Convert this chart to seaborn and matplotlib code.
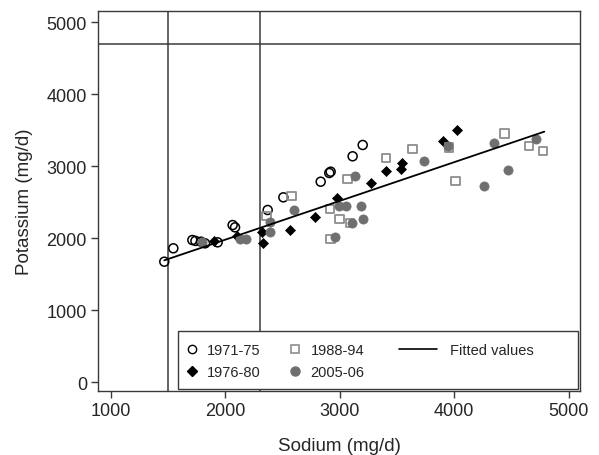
import numpy as np
import pandas as pd
import matplotlib
matplotlib.use("Agg")
import matplotlib.pyplot as plt
import seaborn as sns
from matplotlib.lines import Line2D
from matplotlib.patches import Rectangle

# ---- data ----
na_7175 = [1468, 1547, 1713, 1740, 1789, 1824, 1934, 2065, 2086, 2371, 2508, 2834, 2909, 2921, 3113, 3201]
k_7175 = [1671, 1857, 1972, 1960, 1949, 1926, 1940, 2180, 2148, 2389, 2565, 2782, 2903, 2921, 3135, 3292]

na_7680 = [1902, 2105, 2319, 2327, 2566, 2784, 2974, 3271, 3404, 3541, 3533, 3905, 4027]
k_7680 = [1963, 2025, 2090, 1935, 2116, 2287, 2551, 2767, 2935, 3035, 2958, 3345, 3504]

na_8894 = [2362, 2580, 2915, 2997, 3067, 3090, 2921, 3404, 3637, 3955, 4013, 4441, 4656, 4778]
k_8894 = [2310, 2579, 2403, 2264, 2822, 2204, 1986, 3107, 3236, 3259, 2792, 3450, 3282, 3208]

na_0506 = [1800, 2125, 2180, 2391, 2391, 2604, 2997, 3055, 3183, 3105, 3201, 2959, 3134, 3739, 3948, 4345, 4472, 4262, 4714]
k_0506 = [1945, 1980, 1985, 2218, 2079, 2393, 2440, 2440, 2440, 2208, 2264, 2009, 2866, 3074, 3282, 3315, 2947, 2722, 3375]

# fitted values line (end points)
fit_sodium = [1468, 4787]
fit_potassium = [1690, 3477]

group_labels = ["1971-75", "1976-80", "1988-94", "2005-06"]
fit_label = "Fitted values"

x_ticks = [1000, 2000, 3000, 4000, 5000]
y_ticks = [0, 1000, 2000, 3000, 4000, 5000]
ref_sodium = [1500, 2300]
ref_potassium = [4700]

# ---- styling ----
sns.set_style("ticks")
plt.rcParams["font.family"] = ["Liberation Sans", "DejaVu Sans"]

fig = plt.figure(figsize=(5.99, 4.56), dpi=100)
L, R, T, B = 98, 580, 11.5, 392
W, H = 599, 456
ax = fig.add_axes([L / W, 1 - B / H, (R - L) / W, (B - T) / H])

frames = []
for lab, xs, ys in zip(group_labels, [na_7175, na_7680, na_8894, na_0506],
                       [k_7175, k_7680, k_8894, k_0506]):
    frames.append(pd.DataFrame({"Sodium": xs, "Potassium": ys, "Period": lab}))
df = pd.concat(frames, ignore_index=True)

styles = {
    "1971-75": dict(marker="o", s=42, facecolor="none", edgecolor="black", linewidth=1.1),
    "1976-80": dict(marker="D", s=26, color="black", edgecolor="black", linewidth=0.5),
    "1988-94": dict(marker="s", s=36, facecolor="none", edgecolor="#8e8e8e", linewidth=1.3),
    "2005-06": dict(marker="o", s=44, color="#6f6f6f", edgecolor="#6f6f6f", linewidth=0.5),
}

# reference lines
for v in ref_sodium:
    ax.axvline(v, color="#3a3a3a", lw=1.1, zorder=1)
for v in ref_potassium:
    ax.axhline(v, color="#3a3a3a", lw=1.1, zorder=1)

for lab in group_labels:
    sub = df[df["Period"] == lab]
    sns.scatterplot(data=sub, x="Sodium", y="Potassium", ax=ax, zorder=3,
                    legend=False, **styles[lab])

fit_df = pd.DataFrame({"Sodium": fit_sodium, "Potassium": fit_potassium})
sns.lineplot(data=fit_df, x="Sodium", y="Potassium", ax=ax, color="black", lw=1.3,
             zorder=4, legend=False)

ax.set_xlim(889, 5099)
ax.set_ylim(-125, 5160)
ax.set_xticks(x_ticks)
ax.set_yticks(y_ticks)
ax.tick_params(axis="both", direction="out", length=5, width=1.0, color="#3a3a3a",
               labelsize=13, pad=3)
for sp in ax.spines.values():
    sp.set_color("#3a3a3a")
    sp.set_linewidth(1.0)
ax.set_xlabel("Sodium (mg/d)", fontsize=13.5, labelpad=13)
ax.set_ylabel("Potassium (mg/d)", fontsize=13.5, labelpad=10)

# legend
def axx(px):
    return (px - L) / (R - L)

def axy(py):
    return (B - py) / (B - T)

handles = [
    Line2D([], [], linestyle="none", marker="o", markersize=6, markerfacecolor="none",
           markeredgecolor="black", markeredgewidth=1.0),
    Line2D([], [], linestyle="none", marker="D", markersize=5, color="black"),
    Line2D([], [], linestyle="none", marker="s", markersize=6, markerfacecolor="none",
           markeredgecolor="#8e8e8e", markeredgewidth=1.2),
    Line2D([], [], linestyle="none", marker="o", markersize=6.5, color="#6f6f6f"),
]
leg1 = ax.legend(handles, group_labels, ncol=2, loc="center left",
                 bbox_to_anchor=(axx(184.5), axy(362.4)), frameon=False,
                 fontsize=10.5, handlelength=1.0, handletextpad=0.55,
                 columnspacing=1.85, labelspacing=0.55, borderpad=0, borderaxespad=0)
ax.add_artist(leg1)
leg2 = ax.legend([Line2D([], [], color="black", lw=1.2)], [fit_label], loc="center left",
                 bbox_to_anchor=(axx(399), axy(350.7)), frameon=False, fontsize=10.5,
                 handlelength=2.6, handletextpad=0.9, borderpad=0, borderaxespad=0)
ax.add_patch(Rectangle((axx(178), axy(390)), axx(578) - axx(178), axy(332) - axy(390),
                       transform=ax.transAxes, fill=True, facecolor="white",
                       edgecolor="#3a3a3a", lw=1.0, zorder=5))
leg1.set_zorder(6)
leg2.set_zorder(6)

fig.savefig("out.png", dpi=100)
